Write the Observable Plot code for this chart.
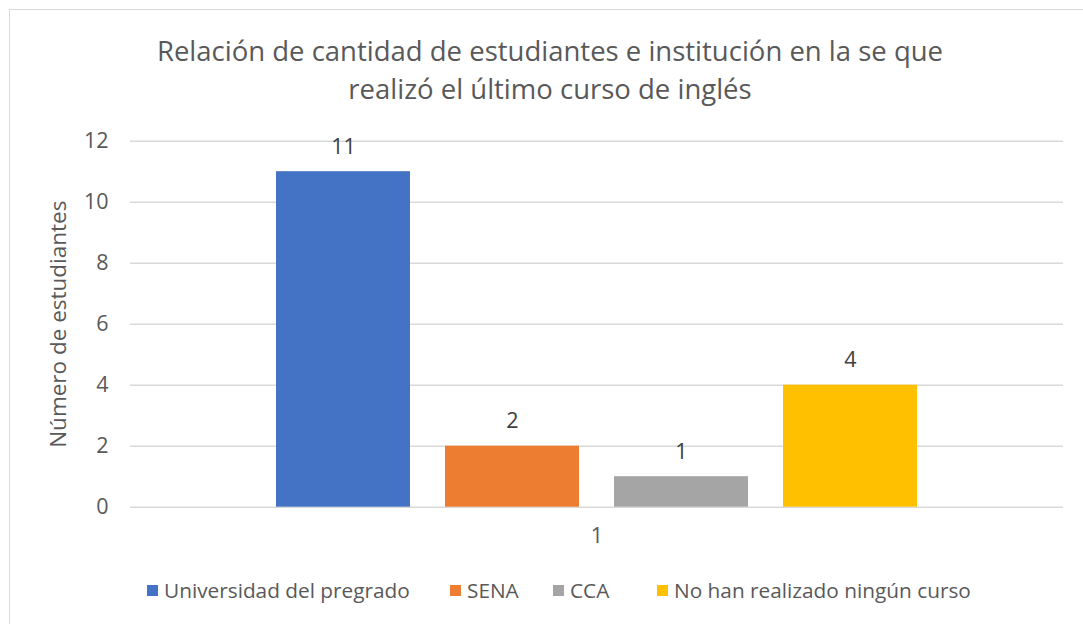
<!DOCTYPE html>
<html>
<head>
<meta charset="utf-8">
<script src="https://cdn.jsdelivr.net/npm/d3@7"></script>
<script src="https://cdn.jsdelivr.net/npm/@observablehq/plot@0.6"></script>
<style>
  html, body { margin: 0; padding: 0; background: #fff; overflow: hidden; width: 1083px; height: 624px; }
  #wrap { position: relative; width: 1083px; height: 624px; font-family: "Open Sans", Lato, sans-serif; color: #595959; }
  #border { position: absolute; left: 9px; top: 9px; width: 1200px; height: 800px; border: 1px solid #d9d9d9; box-sizing: border-box; }
  #title { position: absolute; left: 0; top: 32px; width: 1100px; text-align: center; font-size: 27.5px; line-height: 38px; }
  #chart { position: absolute; left: 0; top: 120px; }
  #legend { position: absolute; top: 576px; left: 0; width: 1083px; height: 28px; font-size: 20.8px; }
  .item { position: absolute; top: 0; display: flex; align-items: center; white-space: nowrap; }
  .sw { width: 11px; height: 11px; margin-right: 6px; }
</style>
</head>
<body>
<div id="wrap">
  <div id="border"></div>
  <div id="title">Relación de cantidad de estudiantes e institución en la se que<br>realizó el último curso de inglés</div>
  <div id="chart"></div>
  <div id="legend"></div>
</div>
<script>
const category = "1";
const series = ["Universidad del pregrado", "SENA", "CCA", "No han realizado ningún curso"];
const values = [11, 2, 1, 4];
const colors = ["#4472C4", "#ED7D31", "#A5A5A5", "#FFC000"];
const yTicks = [0, 2, 4, 6, 8, 10, 12];
const legendLeft = [147, 450, 553, 657];

const data = series.map((s, i) => ({cat: category, serie: s, value: values[i]}));

const chart = Plot.plot({
  width: 1083,
  height: 440,
  marginLeft: 130,
  marginRight: 20,
  marginTop: 20.7,
  marginBottom: 53.3,
  style: {fontFamily: "'Open Sans', Lato, sans-serif", fontSize: "21px", color: "#595959", background: "transparent"},
  fx: {domain: [category], padding: 0, label: null},
  x: {domain: series, paddingInner: 0.2094, paddingOuter: 0.857, axis: null},
  y: {domain: [0, 12], axis: null},
  color: {domain: series, range: colors},
  marks: [
    Plot.gridY(yTicks, {stroke: "#d9d9d9", strokeOpacity: 1, strokeWidth: 1.5}),
    Plot.axisY({ticks: yTicks, tickSize: 0, tickPadding: 22, label: null, fontSize: 21.5}),
    Plot.axisY({ticks: [], tickSize: 0, label: "Número de estudiantes", labelAnchor: "center", labelOffset: 80, labelArrow: false, fontSize: 22.5}),
    Plot.axisFx({anchor: "bottom", tickSize: 0, tickPadding: 21, label: null, fontSize: 21.5}),
    Plot.barY(data, {fx: "cat", x: "serie", y: "value", fill: "serie"}),
    Plot.text(data, {fx: "cat", x: "serie", y: "value", text: d => String(d.value), dy: -25, lineAnchor: "middle", fontSize: 21.5, fill: "#404040"})
  ]
});
document.getElementById("chart").appendChild(chart);

const legend = document.getElementById("legend");
series.forEach((s, i) => {
  const it = document.createElement("div");
  it.className = "item";
  it.style.left = legendLeft[i] + "px";
  const sw = document.createElement("div");
  sw.className = "sw";
  sw.style.background = colors[i];
  const tx = document.createElement("span");
  tx.textContent = s;
  it.appendChild(sw);
  it.appendChild(tx);
  legend.appendChild(it);
});
</script>
</body>
</html>
